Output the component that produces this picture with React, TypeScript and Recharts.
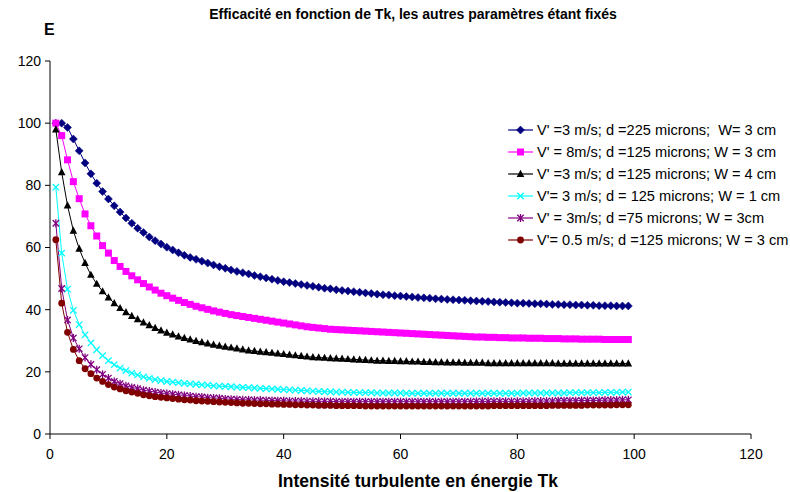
import React from 'react';
import { LineChart, Line, XAxis, YAxis, Legend } from 'recharts';

const tk = [1,2,3,4,5,6,7,8,9,10,11,12,13,14,15,16,17,18,19,20,21,22,23,24,25,26,27,28,29,30,31,32,33,34,35,36,37,38,39,40,41,42,43,44,45,46,47,48,49,50,51,52,53,54,55,56,57,58,59,60,61,62,63,64,65,66,67,68,69,70,71,72,73,74,75,76,77,78,79,80,81,82,83,84,85,86,87,88,89,90,91,92,93,94,95,96,97,98,99];

const s225_3 = [100,100,98.6,94.9,91.1,87.2,83.7,80.7,78.0,75.6,
73.4,71.4,69.5,67.8,66.2,64.8,63.4,62.2,61.1,60.1,
59.2,58.3,57.5,56.8,56.2,55.6,55.0,54.4,53.8,53.3,
52.8,52.3,51.9,51.5,51.0,50.6,50.2,49.8,49.4,49.0,
48.7,48.4,48.1,47.8,47.5,47.2,46.9,46.7,46.4,46.2,
46.0,45.8,45.6,45.4,45.2,45.0,44.8,44.7,44.5,44.4,
44.2,44.1,43.9,43.8,43.7,43.5,43.4,43.3,43.2,43.1,
43.0,42.9,42.8,42.7,42.6,42.5,42.4,42.3,42.2,42.1,
42.1,42.0,41.9,41.9,41.8,41.7,41.7,41.6,41.6,41.5,
41.5,41.4,41.4,41.3,41.3,41.3,41.2,41.2,41.2];

const s8ms = [100,96.0,88.2,81.2,75.7,70.8,67.0,63.7,60.6,58.2,
55.8,53.9,52.3,50.9,49.6,48.4,47.3,46.3,45.3,44.5,
43.7,43.0,42.3,41.7,41.1,40.6,40.1,39.6,39.2,38.8,
38.4,38.1,37.8,37.5,37.2,36.9,36.6,36.3,36.0,35.7,
35.4,35.1,34.8,34.5,34.3,34.1,33.9,33.7,33.6,33.5,
33.4,33.3,33.2,33.1,33.0,32.9,32.8,32.7,32.6,32.5,
32.4,32.3,32.2,32.1,32.0,31.9,31.8,31.7,31.6,31.5,
31.4,31.3,31.2,31.2,31.1,31.1,31.0,31.0,30.9,30.9,
30.9,30.8,30.8,30.8,30.7,30.7,30.7,30.6,30.6,30.6,
30.5,30.5,30.5,30.5,30.4,30.4,30.4,30.4,30.4];

const sW4 = [98.0,84.2,73.5,65.4,59.6,55.0,51.2,48.3,45.9,43.9,
42.1,40.5,39.2,38.0,36.9,35.9,35.0,34.1,33.3,32.6,
32.0,31.4,30.9,30.4,29.9,29.5,29.1,28.7,28.4,28.1,
27.8,27.5,27.2,26.9,26.7,26.5,26.3,26.1,25.9,25.7,
25.5,25.3,25.1,24.9,24.7,24.6,24.5,24.4,24.3,24.2,
24.1,24.0,23.9,23.8,23.7,23.6,23.6,23.5,23.5,23.4,
23.4,23.3,23.3,23.2,23.2,23.1,23.1,23.0,23.0,23.0,
22.9,22.9,22.9,22.9,22.8,22.8,22.8,22.8,22.8,22.8,
22.8,22.8,22.8,22.8,22.8,22.8,22.7,22.7,22.7,22.7,
22.7,22.7,22.7,22.7,22.7,22.7,22.7,22.7,22.7];

const sW1 = [79.4,58.2,46.6,39.8,35.2,31.9,29.3,27.1,25.2,23.6,
22.3,21.2,20.4,19.6,19.0,18.4,17.9,17.5,17.2,16.9,
16.7,16.5,16.3,16.1,16.0,15.8,15.7,15.5,15.4,15.3,
15.2,15.1,15.0,14.9,14.8,14.7,14.6,14.5,14.4,14.3,
14.2,14.1,14.0,13.9,13.8,13.7,13.6,13.6,13.5,13.5,
13.4,13.4,13.3,13.3,13.3,13.2,13.2,13.2,13.2,13.2,
13.1,13.1,13.1,13.1,13.1,13.1,13.1,13.1,13.1,13.1,
13.1,13.1,13.1,13.1,13.1,13.1,13.1,13.1,13.1,13.1,
13.2,13.2,13.2,13.2,13.2,13.2,13.2,13.2,13.3,13.3,
13.3,13.3,13.3,13.3,13.4,13.4,13.4,13.5,13.5];

const s75 = [67.8,46.8,36.7,30.9,27.4,24.6,22.4,20.7,19.2,18.0,
16.9,16.2,15.5,15.0,14.6,14.1,13.8,13.5,13.2,13.0,
12.8,12.6,12.4,12.2,12.0,11.9,11.7,11.6,11.5,11.3,
11.2,11.1,11.0,11.0,10.9,10.9,10.8,10.8,10.7,10.7,
10.6,10.6,10.6,10.5,10.5,10.5,10.5,10.5,10.4,10.4,
10.4,10.4,10.4,10.4,10.4,10.4,10.4,10.4,10.4,10.4,
10.4,10.4,10.4,10.4,10.4,10.4,10.4,10.4,10.4,10.4,
10.4,10.4,10.5,10.5,10.5,10.5,10.5,10.5,10.5,10.5,
10.5,10.5,10.6,10.6,10.6,10.6,10.7,10.7,10.7,10.7,
10.8,10.8,10.8,10.8,10.9,10.9,10.9,11.0,11.0];

const s05 = [62.5,42.1,32.7,27.2,23.6,21.0,19.4,18.0,16.9,15.9,
15.1,14.5,13.9,13.5,13.1,12.6,12.3,12.0,11.8,11.6,
11.4,11.2,11.0,10.9,10.7,10.6,10.5,10.4,10.3,10.2,
10.1,10.0,9.9,9.9,9.8,9.7,9.7,9.6,9.6,9.5,
9.5,9.4,9.4,9.3,9.3,9.2,9.2,9.2,9.1,9.1,
9.1,9.1,9.1,9.0,9.0,9.0,9.0,9.0,9.0,9.0,
9.0,9.0,9.0,9.0,9.0,9.0,9.0,9.0,9.0,9.0,
9.0,9.0,9.0,9.0,9.0,9.1,9.1,9.1,9.1,9.1,
9.1,9.1,9.1,9.1,9.1,9.2,9.2,9.2,9.2,9.2,
9.2,9.3,9.3,9.3,9.3,9.3,9.4,9.4,9.4];

const xTicks = [0, 20, 40, 60, 80, 100, 120];
const yTicks = [0, 20, 40, 60, 80, 100, 120];

const seriesNames = [
  "V' =3 m/s; d =225 microns;  W= 3 cm",
  "V' = 8m/s; d =125 microns; W = 3 cm",
  "V' =3 m/s; d =125 microns; W = 4 cm",
  "V'= 3 m/s; d = 125 microns; W = 1 cm",
  "V' = 3m/s; d =75 microns; W = 3cm",
  "V'= 0.5 m/s; d =125 microns; W = 3 cm",
];
const seriesValues = [s225_3, s8ms, sW4, sW1, s75, s05];
const seriesColors = ['#000080', '#FF00FF', '#000000', '#00FFFF', '#800080', '#800000'];
const seriesMarkers = ['diamond', 'square', 'triangle', 'cross', 'star', 'circle'];

const rows = tk.map((x, i) => {
  const r: any = { x };
  seriesValues.forEach((arr, k) => { r['s' + k] = arr[i]; });
  return r;
});

function marker(kind: string, color: string, cx: number, cy: number, key?: any) {
  switch (kind) {
    case 'diamond':
      return <polygon key={key} points={`${cx},${cy - 4} ${cx + 4},${cy} ${cx},${cy + 4} ${cx - 4},${cy}`} fill={color} stroke={color} strokeWidth={0.5} />;
    case 'square':
      return <rect key={key} x={cx - 3.5} y={cy - 3.5} width={7} height={7} fill={color} />;
    case 'triangle':
      return <polygon key={key} points={`${cx},${cy - 4.2} ${cx + 3.8},${cy + 3} ${cx - 3.8},${cy + 3}`} fill={color} />;
    case 'cross':
      return <g key={key} stroke={color} strokeWidth={1.3}><line x1={cx - 3.2} y1={cy - 3.2} x2={cx + 3.2} y2={cy + 3.2} /><line x1={cx - 3.2} y1={cy + 3.2} x2={cx + 3.2} y2={cy - 3.2} /></g>;
    case 'star':
      return <g key={key} stroke={color} strokeWidth={1.3}><line x1={cx - 3.2} y1={cy - 3.2} x2={cx + 3.2} y2={cy + 3.2} /><line x1={cx - 3.2} y1={cy + 3.2} x2={cx + 3.2} y2={cy - 3.2} /><line x1={cx} y1={cy - 4} x2={cx} y2={cy + 4} /></g>;
    default:
      return <circle key={key} cx={cx} cy={cy} r={3.4} fill={color} />;
  }
}

const makeDot = (kind: string, color: string) => (props: any) => {
  const { cx, cy, index } = props;
  if (cx == null || cy == null) return <g key={index} />;
  return marker(kind, color, cx, cy, index);
};

const renderLegend = () => (
  <div style={{ fontFamily: '"Liberation Sans", Arial, sans-serif', fontSize: 14.6, color: '#000' }}>
    {seriesNames.map((n, k) => (
      <div key={k} style={{ display: 'flex', alignItems: 'center', height: 22, whiteSpace: 'pre' }}>
        <svg width={27} height={12} style={{ marginRight: 2 }}>
          <line x1={0} y1={6} x2={25} y2={6} stroke={seriesColors[k]} strokeWidth={1.2} />
          {marker(seriesMarkers[k], seriesColors[k], 12.5, 6)}
        </svg>
        <span>{n}</span>
      </div>
    ))}
  </div>
);

export default function App() {
  return (
    <div style={{ position: 'absolute', left: 0, top: 0, width: 790, height: 492, background: '#fff', fontFamily: '"Liberation Sans", Arial, sans-serif' }}>
      <div style={{ position: 'absolute', left: 0, width: 826, top: 6, textAlign: 'center', fontSize: 14, fontWeight: 'bold', color: '#000' }}>
        Efficacité en fonction de Tk, les autres paramètres étant fixés
      </div>
      <div style={{ position: 'absolute', left: 44, top: 21, fontSize: 16, fontWeight: 'bold', color: '#000' }}>E</div>
      <div style={{ position: 'absolute', left: 0, width: 836, top: 471, textAlign: 'center', fontSize: 17.5, fontWeight: 'bold', color: '#000' }}>
        Intensité turbulente en énergie Tk
      </div>
      <LineChart width={790} height={492} data={rows} margin={{ top: 61, right: 39, bottom: 18, left: 0 }}>
        <XAxis type="number" dataKey="x" domain={[0, 120]} ticks={xTicks} interval={0} height={40} tickSize={5} tickMargin={10}
          axisLine={{ stroke: '#000' }} tickLine={{ stroke: '#000' }} tick={{ fill: '#000', fontSize: 14 }} />
        <YAxis type="number" domain={[0, 120]} ticks={yTicks} interval={0} width={50} tickSize={5} tickMargin={4}
          axisLine={{ stroke: '#000' }} tickLine={{ stroke: '#000' }} tick={{ fill: '#000', fontSize: 14 }} />
        <Legend layout="vertical" align="center" verticalAlign="middle" content={renderLegend}
          wrapperStyle={{ left: 508, top: 119, width: 282 }} />
        {seriesValues.map((_, k) => (
          <Line key={k} type="linear" dataKey={'s' + k} name={seriesNames[k]} stroke={seriesColors[k]} strokeWidth={1}
            dot={makeDot(seriesMarkers[k], seriesColors[k])} activeDot={false} isAnimationActive={false} />
        ))}
      </LineChart>
    </div>
  );
}
